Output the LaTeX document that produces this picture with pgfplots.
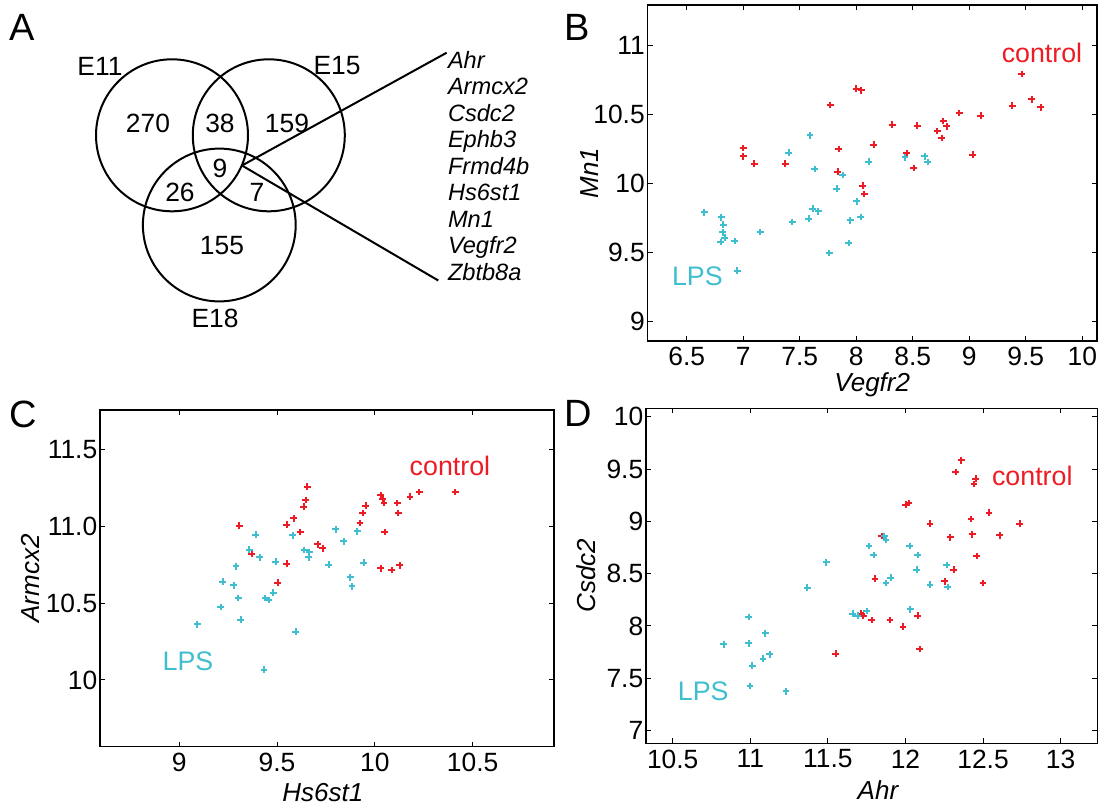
\documentclass[border=0pt]{standalone}
\usepackage{fontspec}
\setmainfont{Liberation Sans}
\usepackage{pgfplots}
\pgfplotsset{compat=1.18}
\definecolor{cred}{RGB}{237,28,36}
\definecolor{ccyan}{RGB}{62,190,206}
\pgfplotsset{
  mstyle/.style={
    scale only axis,
    axis line style={line width=0.75pt},
    tick align=inside,
    major tick length=2.5pt,
    tick style={line width=0.5pt, black},
    /pgf/number format/assume math mode=true,
    ticklabel style={font=\fontsize{13.2}{15}\selectfont},
    yticklabel style={inner sep=1.2pt},
    xticklabel style={inner sep=3pt},
    label style={font=\fontsize{13}{15}\selectfont\itshape},
  },
  ptred/.style={only marks, mark=+, mark size=1.7pt, color=cred, mark options={line width=1pt}},
  ptcyan/.style={only marks, mark=+, mark size=1.7pt, color=ccyan, mark options={line width=1pt}},
}
\newcommand{\annfont}{\fontsize{13.4}{15}\selectfont}
\begin{document}
\begin{tikzpicture}
\useasboundingbox (0,0) rectangle (549pt,-405pt);

% ---------------- Panel A: Venn diagram ----------------
\begin{scope}[x=0.5pt,y=-0.5pt, line width=1pt]
  \draw (172,135.3) circle[radius=38pt];
  \draw (268.8,135.3) circle[radius=38pt];
  \draw (219.3,225) circle[radius=38.2pt];
  \draw (242,165.5) -- (446.7,52.7);
  \draw (242,165.5) -- (438.3,280.5);
  \begin{scope}[every node/.style={font=\fontsize{13.2}{15}\selectfont, inner sep=0pt}]
    \node at (100,66) {E11};
    \node at (337,66) {E15};
    \node at (215,318) {E18};
    \node at (148,123) {270};
    \node at (220,123) {38};
    \node at (287,123) {159};
    \node at (220,168) {9};
    \node at (180,192) {26};
    \node at (257,192) {7};
    \node at (222,246) {155};
  \end{scope}
  \begin{scope}[every node/.style={font=\fontsize{11.8}{13}\selectfont\itshape, inner sep=0pt, anchor=base west}]
    \node at (447,68.3) {Ahr};
    \node at (447,94.8) {Armcx2};
    \node at (447,121.3) {Csdc2};
    \node at (447,147.8) {Ephb3};
    \node at (447,174.3) {Frmd4b};
    \node at (447,200.8) {Hs6st1};
    \node at (447,227.3) {Mn1};
    \node at (447,253.8) {Vegfr2};
    \node at (447,280.3) {Zbtb8a};
  \end{scope}
  \begin{scope}[every node/.style={font=\fontsize{19}{21}\selectfont, inner sep=0pt}]
    \node at (22,27) {A};
    \node at (577,27) {B};
    \node at (23,414) {C};
    \node at (578,413) {D};
  \end{scope}
\end{scope}

% ---------------- Panel B ----------------
\begin{axis}[mstyle,
  at={(323.75pt,-170.5pt)}, anchor=south west,
  width=224.75pt, height=168pt,
  xmin=6.152, xmax=10.13, ymin=8.855, ymax=11.29,
  xtick={6.5,7,7.5,8,8.5,9,9.5,10},
  ytick={9,9.5,10,10.5,11},
  xlabel={Vegfr2}, ylabel={Mn1},
  xlabel style={at={(axis description cs:0.5,-0.131)}, anchor=center},
  ylabel style={at={(axis description cs:-0.128,0.5)}, anchor=center},
]
\addplot[ptred] coordinates {
(7.000,10.254) (7.000,10.193) (7.096,10.140) (7.370,10.140) (7.768,10.565)
(7.845,10.246) (7.836,10.082) (7.999,10.684) (8.043,10.671) (8.055,9.980)
(8.069,9.920) (8.152,10.278) (8.317,10.423) (8.447,10.215) (8.506,10.109)
(8.541,10.415) (8.718,10.377) (8.771,10.449) (8.757,10.326) (8.800,10.410)
(8.913,10.507) (9.031,10.205) (9.099,10.488) (9.379,10.560) (9.465,10.790)
(9.553,10.606) (9.633,10.548)};
\addplot[ptcyan] coordinates {
(6.653,9.787) (6.804,9.751) (6.822,9.698) (6.819,9.643) (6.836,9.604)
(6.800,9.572) (6.925,9.580) (6.945,9.365) (7.149,9.645) (7.403,10.220)
(7.432,9.717) (7.577,9.742) (7.590,10.345) (7.615,9.814) (7.633,10.101)
(7.665,9.795) (7.760,9.493) (7.825,9.959) (7.880,10.058) (7.934,9.565)
(7.945,9.729) (8.004,9.867) (8.040,9.754) (8.110,10.155) (8.430,10.186)
(8.606,10.193) (8.630,10.152)};
\node[text=ccyan, font=\annfont] at (axis cs:6.593,9.326) {LPS};
\node[text=cred, font=\annfont] at (axis cs:9.643,10.944) {control};
\end{axis}

% ---------------- Panel C ----------------
\begin{axis}[mstyle,
  at={(50pt,-373.35pt)}, anchor=south west,
  width=227pt, height=168.35pt,
  xmin=8.595, xmax=10.916, ymin=9.565, ymax=11.76,
  xtick={9,9.5,10,10.5},
  ytick={10,10.5,11,11.5},
  yticklabels={10,10.5,11.0,11.5},
  xlabel={Hs6st1}, ylabel={Armcx2},
  xlabel style={at={(axis description cs:0.491,-0.1375)}, anchor=center},
  ylabel style={at={(axis description cs:-0.152,0.5)}, anchor=center},
]
\addplot[ptred] coordinates {
(9.307,11.007) (9.370,10.824) (9.503,10.635) (9.549,11.013) (9.549,10.759)
(9.585,11.054) (9.620,10.965) (9.636,11.130) (9.646,11.174) (9.655,11.261)
(9.707,10.885) (9.733,10.859) (9.924,11.024) (9.937,11.089) (9.953,11.137)
(10.029,11.204) (10.040,11.180) (10.047,11.157) (10.029,10.728) (10.050,10.965)
(10.086,10.717) (10.115,11.154) (10.120,11.089) (10.128,10.748) (10.180,11.196)
(10.227,11.226) (10.411,11.226)};
\addplot[ptcyan] coordinates {
(9.092,10.363) (9.213,10.476) (9.222,10.641) (9.278,10.617) (9.290,10.741)
(9.302,10.535) (9.315,10.393) (9.358,10.850) (9.390,10.948) (9.412,10.800)
(9.433,10.067) (9.441,10.535) (9.457,10.522) (9.481,10.570) (9.493,10.770)
(9.580,10.943) (9.595,10.315) (9.639,10.848) (9.661,10.800) (9.665,10.835)
(9.765,10.752) (9.799,10.983) (9.840,10.904) (9.874,10.670) (9.883,10.611)
(9.910,10.970) (9.944,10.765)};
\node[text=ccyan, font=\annfont] at (axis cs:9.045,10.12) {LPS};
\node[text=cred, font=\annfont] at (axis cs:10.384,11.394) {control};
\end{axis}

% ---------------- Panel D ----------------
\begin{axis}[mstyle,
  at={(323pt,-371.65pt)}, anchor=south west,
  width=225.65pt, height=167.5pt,
  xmin=10.328, xmax=13.236, ymin=6.879, ymax=10.08,
  xtick={10.5,11,11.5,12,12.5,13},
  ytick={7,7.5,8,8.5,9,9.5,10},
  xlabel={Ahr}, ylabel={Csdc2},
  xlabel style={at={(axis description cs:0.514,-0.139)}, anchor=center},
  ylabel style={at={(axis description cs:-0.133,0.5)}, anchor=center},
]
\addplot[ptred] coordinates {
(11.550,7.736) (11.715,8.118) (11.728,8.099) (11.782,8.057) (11.803,8.452)
(11.848,8.860) (11.900,8.057) (11.984,7.994) (12.001,9.159) (12.022,9.175)
(12.078,8.099) (12.091,7.780) (12.158,8.978) (12.252,8.427) (12.289,8.847)
(12.310,8.538) (12.323,9.471) (12.360,9.583) (12.422,9.022) (12.430,8.876)
(12.441,9.357) (12.452,9.408) (12.460,8.669) (12.499,8.411) (12.538,9.083)
(12.607,8.866) (12.735,8.978)};
\addplot[ptcyan] coordinates {
(10.828,7.825) (10.991,8.086) (10.991,7.834) (10.998,7.427) (11.013,7.621)
(11.082,7.688) (11.097,7.930) (11.125,7.729) (11.230,7.376) (11.367,8.366)
(11.490,8.608) (11.659,8.118) (11.692,8.099) (11.750,8.143) (11.765,8.764)
(11.795,8.678) (11.863,8.860) (11.874,8.822) (11.874,8.411) (11.904,8.462)
(12.031,8.159) (12.027,8.764) (12.078,8.678) (12.072,8.538) (12.158,8.395)
(12.265,8.583) (12.271,8.373)};
\node[text=ccyan, font=\annfont] at (axis cs:10.697,7.379) {LPS};
\node[text=cred, font=\annfont] at (axis cs:12.817,9.433) {control};
\end{axis}
\end{tikzpicture}
\end{document}
